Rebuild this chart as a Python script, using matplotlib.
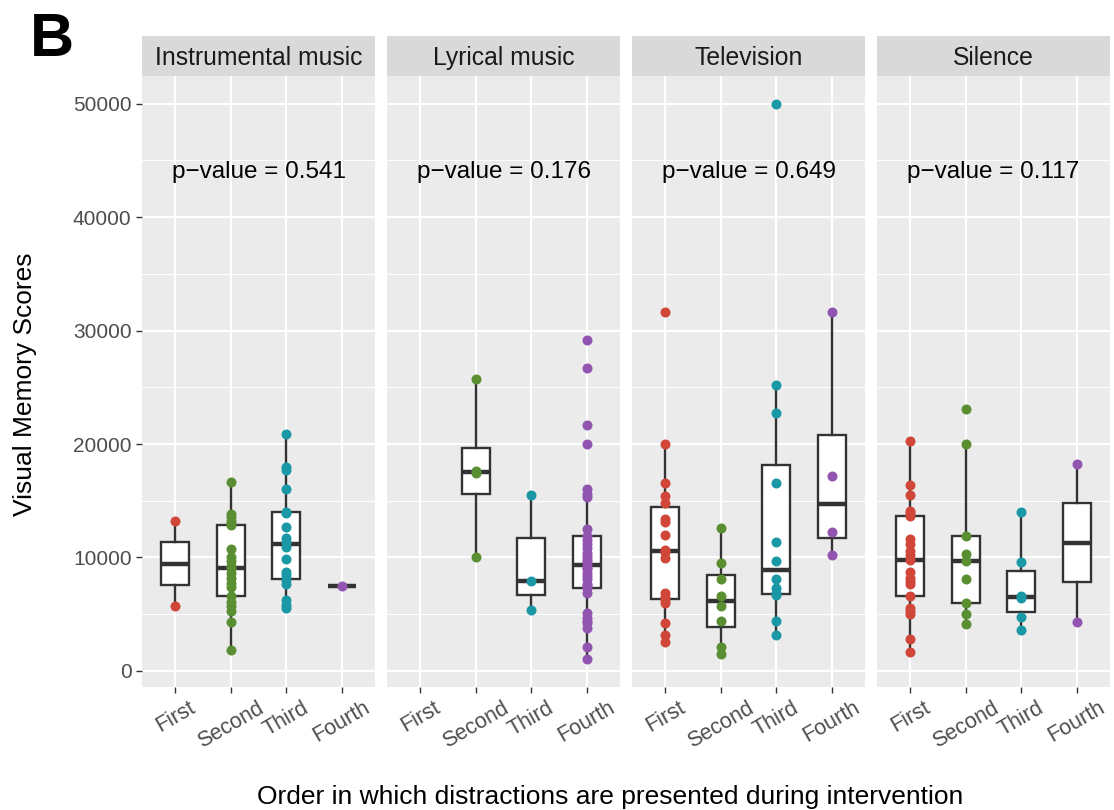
import numpy as np
import matplotlib.pyplot as plt
from matplotlib.patches import Rectangle

plt.rcParams['font.family'] = ['Liberation Sans', 'DejaVu Sans']

panels = ["Instrumental music", "Lyrical music", "Television", "Silence"]
p_values = ["0.541", "0.176", "0.649", "0.117"]
categories = ["First", "Second", "Third", "Fourth"]
colors = ["#D0473A", "#5A8E32", "#1B98A6", "#9155B0"]

# scores per order group (First, Second, Third, Fourth)
instrumental = [
    [5700, 13200],
    [1878, 4313, 5281, 5692, 6073, 6600, 7423, 7775, 8215, 8597, 9070, 9242,
     9682, 10063, 10768, 12850, 13000, 13203, 13555, 13790, 16665],
    [5516, 5810, 6250, 7659, 8011, 8451, 8745, 9830, 10945, 11386, 11680,
     12705, 13900, 14026, 15995, 17694, 17987, 20863],
    [7500],
]
lyrical = [
    [],
    [10063, 17450, 17650, 25700],
    [5400, 7920, 15520],
    [1030, 2110, 3810, 4200, 4400, 4640, 5080, 6840, 7300, 7571, 7630, 8100,
     8400, 8650, 8950, 9100, 9330, 9680, 9900, 10120, 10420, 10800, 11150,
     11500, 11900, 12470, 15300, 15600, 16020, 20040, 21710, 26700, 29140],
]
television = [
    [2580, 3170, 4255, 6015, 6250, 6540, 6840, 9920, 10500, 10650, 11970,
     13100, 13400, 14820, 15405, 16520, 20040, 31630],
    [1480, 2100, 4430, 5760, 6600, 8100, 9480, 12590],
    [3169, 4430, 6700, 6836, 7277, 8068, 9682, 11384, 16577, 22739, 25174,
     50000],
    [10181, 12206, 17164, 31628],
]
silence = [
    [1702, 2846, 4988, 5281, 5516, 6600, 7628, 7922, 8215, 8743, 9800, 10181,
     10563, 11200, 11589, 13650, 13900, 14100, 15462, 16430, 20245],
    [4108, 4988, 5956, 8127, 9682, 10328, 11883, 20039, 23091],
    [3579, 4782, 6450, 6600, 9594, 13995],
    [4342, 18250],
]
all_data = [instrumental, lyrical, television, silence]

allv = [v for d in all_data for g in d for v in g]
lo, hi = min(allv), max(allv)
pad = 0.05 * (hi - lo)

fig, axes = plt.subplots(1, 4, figsize=(11.14, 8.10), dpi=100, sharey=True)
fig.subplots_adjust(left=0.1275, right=0.9964, top=0.9062, bottom=0.1519,
                    wspace=0.0515)

xpos = np.arange(1, 5)
for k, ax in enumerate(axes):
    data = all_data[k]
    ax.set_facecolor("#EBEBEB")
    for s in ax.spines.values():
        s.set_visible(False)
    ax.set_axisbelow(True)

    idx = [i for i, g in enumerate(data) if len(g) > 0]
    ax.boxplot([data[i] for i in idx], positions=[xpos[i] for i in idx],
               widths=0.5, patch_artist=True, showfliers=False, whis=1.5,
               boxprops=dict(facecolor="white", edgecolor="#333333", linewidth=1.7),
               medianprops=dict(color="#333333", linewidth=3.2),
               whiskerprops=dict(color="#333333", linewidth=1.7),
               capprops=dict(visible=False), zorder=2)
    for i in idx:
        ax.scatter([xpos[i]] * len(data[i]), data[i], s=52, color=colors[i],
                   zorder=3, linewidths=0)

    ax.set_xlim(0.4, 4.6)
    ax.set_ylim(lo - pad, hi + pad)
    ax.set_xticks(xpos)
    ax.set_xticklabels(categories, rotation=30, ha="center", va="top",
                       fontsize=15.5, color="#4D4D4D")
    ax.set_yticks(np.arange(0, 50001, 10000))
    ax.set_yticks(np.arange(5000, 50001, 10000), minor=True)
    ax.grid(which="major", color="white", linewidth=1.5)
    ax.grid(which="minor", axis="y", color="white", linewidth=0.7)
    ax.tick_params(which="major", length=4.5, width=1, color="#333333",
                   labelsize=15, labelcolor="#4D4D4D", pad=3)
    ax.tick_params(axis="x", labelsize=15.5)
    ax.tick_params(which="minor", length=0)
    if k > 0:
        ax.tick_params(axis="y", which="both", length=0, labelleft=False)

    ax.text(2.5, 44000, "p\u2212value = " + p_values[k], ha="center",
            va="center", fontsize=17.5, color="black")

    strip_h = 40 / 611
    ax.add_patch(Rectangle((0, 1), 1, strip_h, transform=ax.transAxes,
                           facecolor="#D9D9D9", edgecolor="none",
                           clip_on=False))
    ax.text(0.5, 1 + strip_h / 2, panels[k], transform=ax.transAxes,
            ha="center", va="center_baseline", fontsize=17.8,
            color="#1A1A1A")

axes[0].set_yticklabels([str(v) for v in range(0, 50001, 10000)])
fig.text(25 / 1114, 0.525, "Visual Memory Scores", rotation=90,
         ha="center", va="center", fontsize=19)
fig.text(0.548, 0.007, "Order in which distractions are presented during intervention",
         ha="center", va="baseline", fontsize=19)
fig.text(0.027, 0.985, "B", ha="left", va="top", fontsize=44,
         fontweight="bold")

fig.savefig("out.png", dpi=100)
